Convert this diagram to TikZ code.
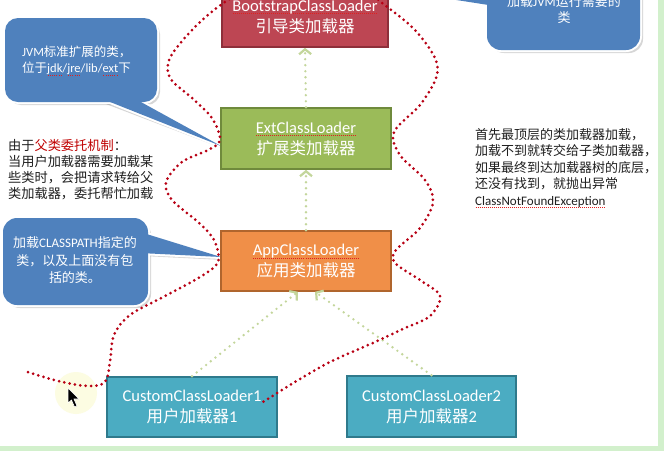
\documentclass[tikz,border=0pt]{standalone}
\usepackage{fontspec}
\setmainfont{Carlito}
\newfontfamily\cjk{Noto Sans CJK SC}
\usetikzlibrary{arrows.meta,calc}
\definecolor{bootfill}{HTML}{BD4653}
\definecolor{bootdraw}{HTML}{8E2F3A}
\definecolor{extfill}{HTML}{9BBB59}
\definecolor{extdraw}{HTML}{6F8A3C}
\definecolor{appfill}{HTML}{F08F48}
\definecolor{appdraw}{HTML}{B0652D}
\definecolor{cusfill}{HTML}{4BACC2}
\definecolor{cusdraw}{HTML}{2F7A8C}
\definecolor{callblue}{HTML}{4F81BD}
\definecolor{dotred}{HTML}{B80014}
\definecolor{dotgreen}{HTML}{C3D69B}
\definecolor{keyred}{HTML}{C00000}
\definecolor{squig}{HTML}{E02020}
\definecolor{paratext}{HTML}{1F1F1F}
\definecolor{stripgreen}{HTML}{D2F0CC}
\definecolor{cursorglow}{HTML}{FCFCE2}
\newcommand\redsquig[1]{\setbox0\hbox{#1}\rlap{\color{squig}\raisebox{-2.8pt}{\hbox to \wd0{\xleaders\hbox to 2pt{\hss\rule{1pt}{0.8pt}\hss}\hfill}}}\box0}
\tikzset{
  loader/.style={draw, line width=1.6pt, minimum width=170, minimum height=61,
    align=center, text=white, inner sep=0,
    font=\fontsize{16.5}{21}\selectfont},
  reddots/.style={draw=dotred, line width=3pt, line cap=round, dash pattern=on 0pt off 5.4pt},
  greenarrow/.style={draw=dotgreen, line width=2.6pt, line cap=round,
    dash pattern=on 0pt off 6pt,
    -{Straight Barb[length=5pt,width=12pt,line width=2.2pt]}},
  callrim/.style={draw=white, line width=4pt, line join=round},
  callfill/.style={fill=callblue},
  callshadow/.style={fill=black, opacity=0.16},
  calltext/.style={text=white, inner sep=0},
  para/.style={text=paratext, inner sep=0, align=left}
}
\begin{document}
\begin{tikzpicture}[x=1pt,y=-1pt]
\useasboundingbox (0,0) rectangle (664,451);
\begin{scope}
\clip (0,0) rectangle (664,451);
\fill[white] (0,0) rectangle (664,451);
\fill[stripgreen] (658,0) rectangle (664,451);
\fill[stripgreen] (0,446) rectangle (664,451);

% callout shadows
\fill[callshadow, rounded corners=13pt] (8,21) rectangle (160,105);
\fill[callshadow] (98,101) -- (224,149) -- (133,101) -- cycle;
\fill[callshadow, rounded corners=14pt] (6,221) rectangle (151,308);
\fill[callshadow] (143,235) -- (224,260) -- (143,256) -- cycle;
\fill[callshadow, rounded corners=14pt] (490,-17) rectangle (643,53);
% callout rims
\draw[callrim, rounded corners=13pt] (5,18) rectangle (157,102);
\draw[callrim] (95,96) -- (221,146) -- (130,96) -- cycle;
\draw[callrim, rounded corners=14pt] (3,218) rectangle (148,305);
\draw[callrim] (140,232) -- (221,257) -- (140,253) -- cycle;
\draw[callrim, rounded corners=14pt] (487,-20) rectangle (640,50);
\draw[callrim] (495,-18) -- (392,-10) -- (495,6) -- cycle;
% callout fills
\fill[callfill, rounded corners=13pt] (5,18) rectangle (157,102);
\fill[callfill] (95,96) -- (221,146) -- (130,96) -- cycle;
\fill[callfill, rounded corners=14pt] (3,218) rectangle (148,305);
\fill[callfill] (140,232) -- (221,257) -- (140,253) -- cycle;
\fill[callfill, rounded corners=14pt] (487,-20) rectangle (640,50);
\fill[callfill] (495,-18) -- (392,-10) -- (495,6) -- cycle;

\node[calltext, anchor=west, align=left, font=\fontsize{12.5}{16}\selectfont] (jvmtxt) at (22,61)
  {JVM{\cjk 标准扩展的类，}\\{\cjk 位于}\redsquig{jdk}/\redsquig{jre}/lib/\redsquig{ext}{\cjk 下}};
\node[calltext, align=center, font=\fontsize{13}{17.5}\selectfont] (cptxt) at (75,260.5)
  {{\cjk 加载}CLASSPATH{\cjk 指定的}\\{\cjk 类，以及上面没有包}\\{\cjk 括的类。}};
\node[calltext, align=center, font=\fontsize{13}{16}\selectfont] (needtxt) at (564,9.5)
  {{\cjk 加载}JVM{\cjk 运行需要的}\\{\cjk 类}};

% paragraphs
\node[para, anchor=west, font={\cjk\fontsize{13.2}{16.1}\selectfont}] (why) at (8,169.5)
  {由于{\color{keyred}父类委托机制}：\\当用户加载器需要加载某\\些类时，会把请求转给父\\类加载器，委托帮忙加载};
\node[para, anchor=west, font={\cjk\fontsize{13}{16.5}\selectfont}] (rule) at (475,168)
  {首先最顶层的类加载器加载，\\加载不到就转交给子类加载器，\\如果最终到达加载器树的底层，\\还没有找到，就抛出异常\\{\rmfamily\redsquig{ClassNotFoundException}}};

% loaders
\node[loader, fill=bootfill, draw=bootdraw, minimum width=166] (boot) at (305,16.5)
  {\redsquig{BootstrapClassLoader}\\{\cjk 引导类加载器}};
\node[loader, fill=extfill, draw=extdraw] (ext) at (306,138.5)
  {\redsquig{ExtClassLoader}\\{\cjk 扩展类加载器}};
\node[loader, fill=appfill, draw=appdraw, minimum height=60] (app) at (306,261)
  {\redsquig{AppClassLoader}\\{\cjk 应用类加载器}};
\node[loader, fill=cusfill, draw=cusdraw, minimum height=60] (c1) at (192,407)
  {CustomClassLoader1\\{\cjk 用户加载器}1};
\node[loader, fill=cusfill, draw=cusdraw, minimum width=169] (c2) at (431.5,406.5)
  {CustomClassLoader2\\{\cjk 用户加载器}2};

% delegation arrows
\draw[greenarrow] (ext.north) -- (boot.south);
\draw[greenarrow] (app.north) -- (ext.south);
\draw[greenarrow] (c1.north) -- ($(app.south)+(-8,0)$);
\draw[greenarrow] (c2.north) -- ($(app.south)+(9,0)$);

% cursor glow
\fill[cursorglow] (76,393) circle (21);

% red dotted delegation path
\draw[reddots] plot[smooth, tension=0.55] coordinates {
 (28,372) (58,381) (88,386) (105,382) (110,362) (114,335) (130,315) (165,296)
 (200,277) (218,262) (214,240) (198,222) (172,200) (166,182) (182,162) (208,150)
 (220,140) (212,118) (192,98) (170,78) (170,58) (192,30) (222,4) (260,-18)
 (305,-28) (350,-20) (386,6) (415,30) (435,58) (436,78) (420,105) (394,132)
 (400,155) (425,180) (433,202) (420,228) (396,250) (395,263) (420,280) (440,296)
 (430,316) (405,328) (375,342) (330,362) (295,382) (263,402)};

% mouse cursor
\filldraw[fill=black, draw=white, line width=0.6pt] (68,388) -- (68,403) -- (71.5,400) -- (74.5,407) -- (77,406) -- (74,399) -- (79,399) -- cycle;
\end{scope}
\end{tikzpicture}
\end{document}
